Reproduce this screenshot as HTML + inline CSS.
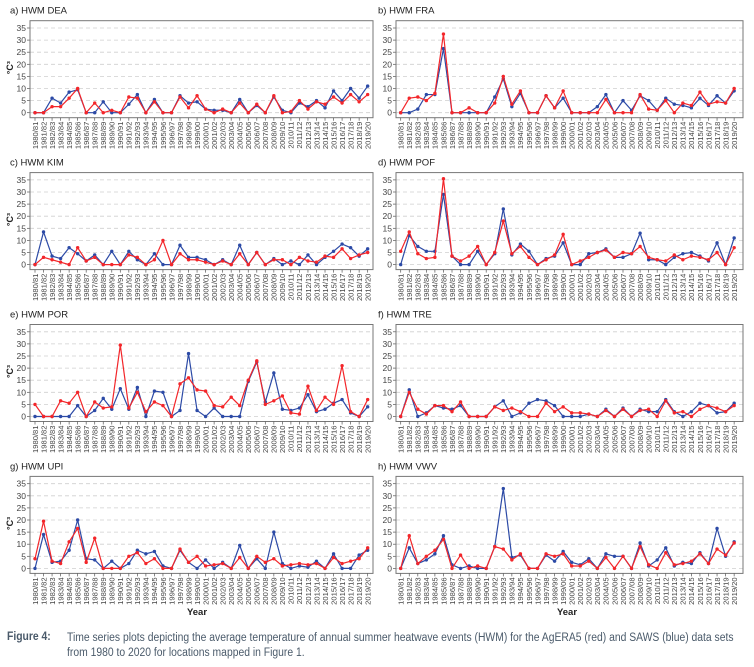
<!DOCTYPE html>
<html><head><meta charset="utf-8">
<style>
html,body{margin:0;padding:0;background:#fff;}
body{width:754px;height:667px;overflow:hidden;font-family:"Liberation Sans",Arial,sans-serif;}
.cap{position:absolute;font-family:"Liberation Sans Narrow","Liberation Sans",sans-serif;font-size:11.5px;color:#4a5a6a;white-space:nowrap;transform-origin:0 0;transform:scaleX(0.9);}
</style></head>
<body>
<svg id="chart" width="754" height="667" style="position:absolute;left:0;top:0"></svg>
<div class="cap" style="left:7px;top:631px;font-weight:bold;">Figure 4:</div>
<div class="cap" style="left:67px;top:631px;line-height:15px;">Time series plots depicting the average temperature of annual summer heatwave events (HWM) for the AgERA5 (red) and SAWS (blue) data sets<br>from 1980 to 2020 for locations mapped in Figure 1.</div>
<script>
const years = [];
for (let y = 1980; y < 2020; y++) years.push(y + "/" + String((y + 1) % 100).padStart(2, "0"));
const yTicks = [0,5,10,15,20,25,30,35];
const titles = ["a) HWM DEA","b) HWM FRA","c) HWM KIM","d) HWM POF","e) HWM POR","f) HWM TRE","g) HWM UPI","h) HWM VWV"];
const blueDEA=[0,0,6,4,8.5,9.5,0,0,4.5,0,0,3.5,7.5,0,5.5,0,0,7,4,4.5,1.5,1,1,0,5.5,0,3,0,6.5,1,0,4,2.5,5,2,9,5,10,6,11];
const redDEA=[0,0,2.5,2.5,6,10,0,4,0,1,0,6.5,6,0,4.5,0,0,6.5,2,7,1.5,0,1.5,0,4,0,3.5,0,7,0,0.5,5,1.5,4.5,3.5,6.5,4,7.5,4.5,7.5];
const blueFRA=[0,0,1.5,7.5,7.5,26.5,0,0,0,0,0,6.5,14,2.5,8,0,0,7,2,6,0,0,0,2.5,7.5,0,5,1,7,5,1,6,3.5,3,2,6,3,7,4,9];
const redFRA=[0,6,6.5,5,8,32.5,0,0,2,0,0,4,15,3.5,9,0,0,7,2,9,0,0,0,0,5.5,0,0,0,7.5,1.5,1,5,0,4,3,8.5,3.5,4.5,4,10];
const blueKIM=[0,13.5,3.5,2.5,7,4.5,1.5,4,0,5.5,0,5.5,2,0,4.5,0,0,8,3,3,2,0,2,0,8,0,5,0,2.5,0,1.5,0,4,0,3,5.5,8.5,7,3.5,6.5];
const redKIM=[0,3,2,1,0,7,1.5,3,0,0,0,4,3,0,2,10,0,4.5,2,2,1,0,1.5,0,4.5,0,5,0,2,2,0,3,1.5,1,3.5,3,6.5,2.5,4,5];
const bluePOF=[0,12,7.5,5.5,5.5,29,3.5,0,0,5.5,0,4.5,23,4,8.5,5.5,0,2.5,3.5,9,0,0,4.5,5,6.5,3,3,4.5,13,2,2,0,3,4.5,5,3.5,1.5,9,0,11];
const redPOF=[5.5,13.5,4.5,2.5,3,35.5,3.5,1.5,3.5,7.5,0,5,18,4.5,7.5,3,0,2,4,12.5,0,1.5,3,5,6,3,5,4.5,7.5,3,2,1.5,4,2,3.5,3,2,5,0,7];
const bluePOR=[0,0,0,0,0,4.5,0,2.5,7.5,3,11.5,3,12,0,10.5,10,0,2.5,26,2.5,0,3.5,0,0,0,14.5,22.5,6,18,3,2.5,3.5,9,2,3,5.5,7,1.5,0,4];
const redPOR=[5,0,0,6.5,5.5,10,0,6,3.5,4,29.5,3.5,10,2,6,4.5,0,13.5,16,11,10.5,4.5,4,8,4.5,15,23,5,6.5,8.5,1.5,1,12.5,2.5,8,5,21,2,0,7];
const blueTRE=[0,11,0,1.5,4.5,3.5,3,4.5,0,0,0,4,6.5,0,1.5,5.5,7,6.5,4.5,0,0,0,1,0,3,0,3.5,0,3,2,2,7,2,0,2,5.5,4.5,1.5,2,5.5];
const redTRE=[0,10,3,1,4.5,4.5,2,6,0,0,0,4,2.5,3.5,2,0,0,5.5,2,4,1.5,1.5,1,0,2.5,0,3,0,2.5,3,0,6.5,1.5,2,0,3,4.5,3.5,2,4.5];
const blueUPI=[0,14,2.5,3,7.5,20,4,3.5,0,3,0,2,7.5,6,7,1,0,7.5,2.5,0,3.5,0,2.5,0,9.5,0,4,0,15,2,0,1,0.5,3,0,6,0,0,5.5,7.5];
const redUPI=[4,19.5,3,2,11,16.5,2.5,12.5,0,0,0,5,6.5,2,4,0,0,8,2.5,5,1,1.5,2,0,4.5,0,5,2.5,4,1,1.5,2,1.5,2,0,4.5,2,3,4,8.5];
const blueVWV=[0,8.5,2,3.5,6,13.5,1.5,0,1,0,0,9,33,4.5,5.5,0,0,5.5,3,7,2.5,1.5,4,0,6,5,5,0,10.5,1,3.5,8.5,1,2.5,2,6.5,2,16.5,5,11];
const redVWV=[0,13.5,2,5,7.5,12,0,5.5,0,1,0,9,8,3.5,6,0,0,6,5,6,1,1,3,0,4.5,0,5,0,9,1.5,0,6.5,1.5,2,3,6,2,8,5.5,10.5];
const blueSeries=[blueDEA,blueFRA,blueKIM,bluePOF,bluePOR,blueTRE,blueUPI,blueVWV];
const redSeries=[redDEA,redFRA,redKIM,redPOF,redPOR,redTRE,redUPI,redVWV];

const NS="http://www.w3.org/2000/svg";
const svg=document.getElementById("chart");
function mk(tag,attrs,parent){const e=document.createElementNS(NS,tag);for(const k in attrs)e.setAttribute(k,attrs[k]);(parent||svg).appendChild(e);return e;}
const BLUE="#2c4aa6", RED="#f3262a";
for(let p=0;p<8;p++){
  const col=p%2,row=Math.floor(p/2);
  const fl=col?396:30, fr=col?743:373;
  const x0=col?400.7:35, step=col?8.55:8.53;
  const y0=112.7+151.9*row, ppu=2.42;
  const xs=i=>x0+i*step, ys=v=>y0-v*ppu;
  const g=mk("g",{});
  
  
  const t=mk("text",{x:col?378:10,y:y0-99,"font-size":"9.5","fill":"#222"},g);t.textContent=titles[p];
  
  
  yTicks.forEach(v=>{
    const gl=mk("line",{x1:fl,x2:fr,y1:ys(v),y2:ys(v),stroke:"#cfcfcf","stroke-width":"0.8","stroke-dasharray":"4,3"},g);
    
    
    mk("line",{x1:fl-3,x2:fl,y1:ys(v),y2:ys(v),stroke:"#555","stroke-width":"0.7"},g);
    const tl=mk("text",{x:fl-4,y:ys(v)+3,"font-size":"8.5","fill":"#444","text-anchor":"end"},g);tl.textContent=v;
    
    
  });
  const fr_=mk("rect",{x:fl,y:y0-92,width:fr-fl,height:97,fill:"none",stroke:"#777","stroke-width":"1"},g);
  
  
  years.forEach((lab,i)=>{
    mk("line",{x1:xs(i),x2:xs(i),y1:y0+5,y2:y0+8,stroke:"#555","stroke-width":"0.7"},g);
    const xl=mk("text",{x:0,y:0,"font-size":"7.6","fill":"#444","text-anchor":"end",transform:`translate(${xs(i)+2.8},${y0+9}) rotate(-90)`},g);xl.textContent=lab;
    
    
  });
  if(!col){
    const yt=mk("text",{x:0,y:0,"font-size":"9","font-weight":"bold","fill":"#222","text-anchor":"middle",transform:`translate(13,${y0-45}) rotate(-90)`},g);yt.textContent="°C³";
    
    
  }
  if(row===3){
    const xt=mk("text",{x:col?567:197,y:615,"font-size":"9.5","font-weight":"bold","fill":"#222","text-anchor":"middle"},g);xt.textContent="Year";
    
    
  }
  [[blueSeries[p],BLUE,'saws-blue'],[redSeries[p],RED,'agera5-red']].forEach(([data,c,nm])=>{
    const pl=mk("polyline",{points:data.map((v,i)=>xs(i)+","+ys(v)).join(" "),fill:"none",stroke:c,"stroke-width":"1.2"},g);
    
    
    data.forEach((v,i)=>{
      const m=mk("circle",{cx:xs(i),cy:ys(v),r:"1.7",fill:c},g);
      
      
    });
  });
}
</script>
</body></html>
